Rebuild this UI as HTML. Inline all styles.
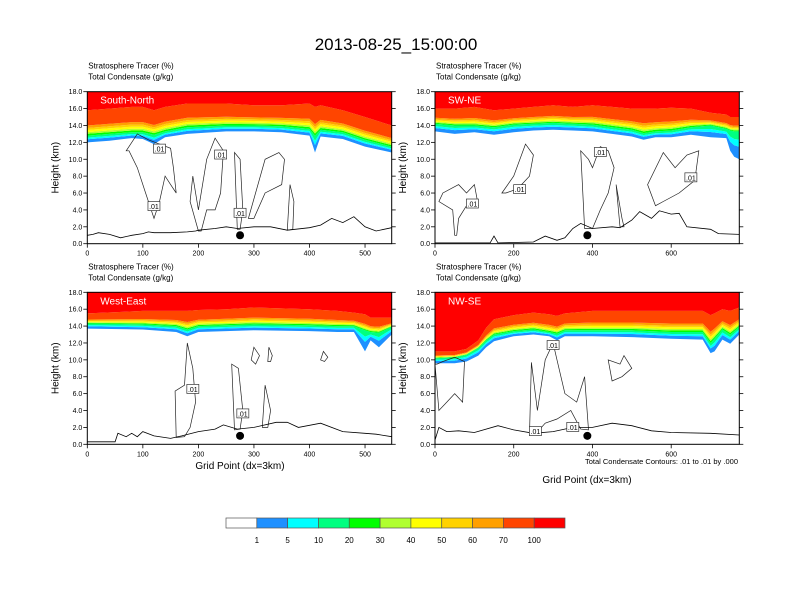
<!DOCTYPE html>
<html><head><meta charset="utf-8"><style>
html,body{margin:0;padding:0;background:#fff;}
svg{display:block;font-family:"Liberation Sans",sans-serif;}
</style></head><body>
<svg id="chart" width="792" height="612" viewBox="0 0 792 612">
<text x="396" y="50" font-size="17" text-anchor="middle">2013-08-25_15:00:00</text>
<g id="panels"></g>
<text x="738" y="464" font-size="7.5" text-anchor="end">Total Condensate Contours: .01 to .01 by .000</text>
<text x="240" y="469" font-size="10" text-anchor="middle">Grid Point (dx=3km)</text>
<text x="587" y="483" font-size="10" text-anchor="middle">Grid Point (dx=3km)</text>
<g id="colorbar"></g>
</svg>
<script>
const NS="http://www.w3.org/2000/svg";
const bandColors=["#1e90ff","#00ffff","#00ff80","#00ff00","#b0ff30","#ffff00","#ffd200","#ffa000","#ff4500","#ff0000"];
const cbColors=["#ffffff","#1e90ff","#00ffff","#00ff80","#00ff00","#b0ff30","#ffff00","#ffd200","#ffa000","#ff4500","#ff0000"];
const cbLabels=["1","5","10","20","30","40","50","60","70","100"];

const p1Xs=[0,40,80,100,120,140,180,250,300,350,400,410,420,460,500,548];
const p1Lo=[12.0,12.2,12.5,12.4,11.8,12.6,13.0,13.3,13.3,13.2,12.8,10.8,12.7,12.4,11.5,10.8];
const p1Mid=[12.8,13.0,13.2,13.2,12.9,13.3,13.8,14.0,14.0,13.9,13.6,12.8,13.5,13.2,12.3,11.5];
const p1Hi=[15.8,16.0,16.2,16.2,15.8,16.2,16.6,16.6,16.4,16.4,16.6,16.2,16.4,15.8,15.0,14.0];
const p1TerrX=[0,10,20,40,60,80,100,110,120,150,180,195,200,230,250,270,300,330,360,400,420,440,460,480,500,520,548];
const p1TerrY=[1.0,1.1,1.3,1.1,0.7,1.0,1.2,1.4,1.3,1.3,1.4,1.5,1.6,1.8,2.0,1.8,2.0,2.0,1.6,1.9,2.2,3.0,2.5,3.2,2.0,1.5,1.9];

const p2Xs=[0,50,100,150,200,250,300,350,400,450,500,530,560,600,650,700,740,750,760,773];
const p2Lo=[13.3,13.0,13.2,12.9,13.2,13.4,13.5,13.4,13.3,13.0,12.7,12.3,12.6,12.6,12.9,12.6,12.5,11.0,10.3,10.0];
const p2Mid=[14.2,14.0,14.0,13.8,14.1,14.2,14.3,14.2,14.1,13.8,13.5,13.1,13.3,13.4,13.8,14.0,13.6,13.4,13.3,13.3];
const p2Hi=[16.0,16.0,16.2,15.8,16.0,16.2,16.4,16.2,16.4,16.2,16.0,16.0,16.0,16.1,16.0,15.5,15.3,15.0,15.0,15.0];
const p2TerrX=[0,140,150,160,250,280,310,330,350,370,400,450,470,500,520,550,570,600,620,640,700,720,773];
const p2TerrY=[0.1,0.1,0.9,0.1,0.2,0.9,0.4,0.7,1.8,2.4,1.8,2.0,1.9,2.8,3.8,3.0,3.9,3.5,3.6,2.0,1.7,1.2,1.1];

const p3Xs=[0,100,160,180,200,250,300,400,450,480,500,510,525,548];
const p3Lo=[13.7,13.6,13.3,12.8,13.3,13.4,13.5,13.4,13.3,13.3,11.0,12.3,11.5,13.0];
const p3Mid=[14.3,14.2,14.0,13.6,14.0,14.1,14.2,14.1,14.0,14.0,13.5,13.3,13.2,13.9];
const p3Hi=[15.5,15.8,15.8,15.8,15.9,16.0,16.2,16.0,15.8,15.6,15.4,15.0,15.0,15.0];
const p3TerrX=[0,50,55,70,80,90,100,120,150,170,200,230,245,270,300,340,360,380,420,460,500,520,548];
const p3TerrY=[0.3,0.3,1.3,0.9,1.3,0.9,1.5,1.0,0.7,1.0,1.5,1.8,2.3,1.8,2.0,2.6,2.6,2.0,2.5,1.5,1.3,1.2,0.9];

const p4Xs=[0,50,80,110,130,150,200,250,290,310,330,400,500,600,680,700,710,730,750,773];
const p4Lo=[9.6,9.6,9.8,10.5,11.5,12.2,12.8,13.0,12.8,12.3,12.8,12.8,12.7,12.5,12.4,10.8,11.0,12.4,11.9,13.0];
const p4Mid=[10.2,10.3,10.6,11.4,12.3,13.0,13.4,13.6,13.3,13.1,13.5,13.5,13.5,13.3,13.3,12.0,12.5,13.6,13.0,13.9];
const p4Hi=[11.0,11.0,11.3,12.3,13.8,14.8,15.3,15.6,15.4,15.2,15.5,15.8,15.8,15.8,15.8,15.3,15.5,16.0,15.8,16.2];
const p4TerrX=[0,10,30,60,100,160,200,250,300,350,400,450,500,550,600,700,773];
const p4TerrY=[0.5,2.0,1.5,1.6,1.4,2.2,1.7,1.3,1.5,2.0,2.0,2.5,2.2,1.6,1.4,1.3,1.1];

const p1Contours=[
 [[70,11],[90,13],[110,12.3],[130,11.8],[150,11.3],[155,9],[160,6],[150,7],[140,8],[130,5],[120,3],[115,4],[105,6],[90,9],[75,11]],
 [[200,1.5],[185,5],[190,8],[200,4],[215,10],[230,12.5],[245,11],[240,6],[230,4],[215,4],[205,1.5]],
 [[270,1.7],[265,10.8],[275,10],[280,4],[275,1.7]],
 [[290,3],[320,10],[345,10.8],[355,10],[350,7],[320,6],[300,3]],
 [[360,1.6],[365,7],[372,5],[370,1.7]]];
const p2Contours=[
 [[50,1],[45,4],[10,5],[20,6],[60,7],[80,6],[100,7],[110,4.5],[80,4.5],[60,3],[55,1]],
 [[170,6],[200,8],[230,11.8],[250,10.5],[240,8],[210,6.5],[180,6]],
 [[380,1.8],[370,11],[390,10],[400,9],[420,11.5],[440,11],[455,9],[440,6],[420,4],[400,1.8]],
 [[470,2],[460,7],[475,3],[480,2]],
 [[560,4.5],[540,7],[580,10.8],[610,9],[640,10.5],[670,11],[660,7.5],[620,6],[580,5]]];
const p3Contours=[
 [[160,0.8],[158,6.3],[175,7],[180,12],[190,9],[195,5],[185,2],[175,0.9]],
 [[265,1.7],[260,9.5],[272,9],[280,4],[275,1.8]],
 [[315,2],[320,7],[330,4],[325,2]],
 [[295,10],[300,11.5],[310,10.5],[303,9.5]],
 [[325,9.8],[327,11.5],[333,10.5],[330,9.8]],
 [[420,10],[425,11],[433,10.3],[427,9.8]]];
const p4Contours=[
 [[0,9.5],[10,4],[30,5],[50,6],[70,5],[75,9.8],[50,10.3],[20,9.8],[5,9.5]],
 [[240,1.2],[245,9.7],[260,4],[280,10],[300,12],[310,10],[330,6],[360,5],[380,8],[390,1.7],[370,1.8],[345,4],[310,3],[280,2.5],[255,1.2]],
 [[450,7.5],[440,10],[470,9.5],[480,10.5],[500,9],[475,8]]];

const p1Labels=[[130,11.2],[240,10.5],[120,4.4],[275,3.6]];
const p2Labels=[[95,4.7],[215,6.4],[420,10.8],[650,7.8]];
const p3Labels=[[190,6.5],[280,3.6]];
const p4Labels=[[300,11.7],[255,1.5],[350,2.0]];

const panels=[
 {name:"South-North",left:87.3,top:91.7,w:304.4,h:152,xmax:548,xticks:[0,100,200,300,400,500],xs:p1Xs,lo:p1Lo,mid:p1Mid,hi:p1Hi,tx:p1TerrX,ty:p1TerrY,cont:p1Contours,labels:p1Labels,dot:275},
 {name:"SW-NE",left:435,top:91.7,w:304.3,h:152,xmax:773,xticks:[0,200,400,600],xs:p2Xs,lo:p2Lo,mid:p2Mid,hi:p2Hi,tx:p2TerrX,ty:p2TerrY,cont:p2Contours,labels:p2Labels,dot:387},
 {name:"West-East",left:87.3,top:292.3,w:304.4,h:152,xmax:548,xticks:[0,100,200,300,400,500],xs:p3Xs,lo:p3Lo,mid:p3Mid,hi:p3Hi,tx:p3TerrX,ty:p3TerrY,cont:p3Contours,labels:p3Labels,dot:275},
 {name:"NW-SE",left:435,top:292.3,w:304.3,h:152,xmax:773,xticks:[0,200,400,600],xs:p4Xs,lo:p4Lo,mid:p4Mid,hi:p4Hi,tx:p4TerrX,ty:p4TerrY,cont:p4Contours,labels:p4Labels,dot:387}
];

function mk(tag,attrs,parent){const e=document.createElementNS(NS,tag);for(const k in attrs)e.setAttribute(k,attrs[k]);parent.appendChild(e);return e;}

const root=document.getElementById("panels");
panels.forEach((p,pi)=>{
 const g=mk("g",{},root);
 
 
 const X=v=>p.left+v/p.xmax*p.w;
 const Y=v=>p.top+p.h-v/18*p.h;
 const cid="clip"+pi;
 const cp=mk("clipPath",{id:cid},g);
 mk("rect",{x:p.left,y:p.top,width:p.w,height:p.h},cp);
 const pg=mk("g",{"clip-path":"url(#"+cid+")"},g);
 const bound=(k,i)=>{const lo=p.lo[i],mid=p.mid[i],hi=p.hi[i];
  const f=[0,0.45,0.7,1.0];
  if(k<=3)return lo+f[k]*(mid-lo);
  const g2=[0,0.07,0.14,0.22,0.3,0.4,1.0];
  return mid+g2[k-3]*(hi-mid);};
 for(let b=0;b<10;b++){
  let pts=[];
  for(let i=0;i<p.xs.length;i++)pts.push(X(p.xs[i]).toFixed(1)+","+Y(bound(b,i)).toFixed(1));
  const upper=b<9?(i=>bound(b+1,i)):(i=>18);
  for(let i=p.xs.length-1;i>=0;i--)pts.push(X(p.xs[i]).toFixed(1)+","+Y(upper(i)).toFixed(1));
  const poly=mk("polygon",{points:pts.join(" "),fill:bandColors[b]},pg);
  
  
 }
 p.cont.forEach((c,ci)=>{
  const d=c.map((q,j)=>(j?"L":"M")+X(q[0]).toFixed(1)+","+Y(q[1]).toFixed(1)).join("")+"Z";
  const path=mk("path",{d:d,fill:"none",stroke:"#222","stroke-width":"0.7"},pg);
  
  
 });
 const td=p.tx.map((v,j)=>(j?"L":"M")+X(v).toFixed(1)+","+Y(p.ty[j]).toFixed(1)).join("");
 const terr=mk("path",{d:td,fill:"none",stroke:"#000","stroke-width":"0.8"},pg);
 
 
 p.labels.forEach(l=>{
  const lg=mk("g",{},pg);
  
  
  mk("rect",{x:X(l[0])-6,y:Y(l[1])-5,width:12,height:9,fill:"#fff",stroke:"#333","stroke-width":"0.7"},lg);
  const t=mk("text",{x:X(l[0]),y:Y(l[1])+2.5,"font-size":"7","text-anchor":"middle"},lg);t.textContent=".01";
 });
 const dot=mk("circle",{cx:X(p.dot),cy:Y(1.0),r:4,fill:"#000"},pg);
 
 
 const nm=mk("text",{x:p.left+13,y:p.top+12,"font-size":"10",fill:"#fff"},pg);nm.textContent=p.name;
 
 
 const fr=mk("rect",{x:p.left,y:p.top,width:p.w,height:p.h,fill:"none",stroke:"#000","stroke-width":"1"},g);
 
 
 for(let v=0;v<=18;v+=2){
  mk("line",{x1:p.left-4,x2:p.left,y1:Y(v),y2:Y(v),stroke:"#000","stroke-width":"0.8"},g);
  mk("line",{x1:p.left+p.w,x2:p.left+p.w+4,y1:Y(v),y2:Y(v),stroke:"#000","stroke-width":"0.8"},g);
  const t=mk("text",{x:p.left-5,y:Y(v)+2.5,"font-size":"7","text-anchor":"end"},g);t.textContent=v.toFixed(1);
  
  
 }
 p.xticks.forEach(v=>{
  mk("line",{x1:X(v),x2:X(v),y1:p.top+p.h,y2:p.top+p.h+4,stroke:"#000","stroke-width":"0.8"},g);
  const t=mk("text",{x:X(v),y:p.top+p.h+12,"font-size":"7","text-anchor":"middle"},g);t.textContent=v;
  
  
 });
 const yt=mk("text",{x:0,y:0,"font-size":"10","text-anchor":"middle",transform:"translate("+(p.left-29)+","+(p.top+p.h/2)+") rotate(-90)"},g);yt.textContent="Height (km)";
 
 
 const t1=mk("text",{x:p.left+1,y:p.top-23,"font-size":"8"},g);t1.textContent="Stratosphere Tracer   (%)";t1.setAttribute("xml:space","preserve");
 
 
 const t2=mk("text",{x:p.left+1,y:p.top-12,"font-size":"8"},g);t2.textContent="Total Condensate   (g/kg)";t2.setAttribute("xml:space","preserve");
 
 
});
const cb=document.getElementById("colorbar");
const cbX=226,cbW=339,cbY=518,cbH=10,bw=cbW/cbColors.length;
cbColors.forEach((c,i)=>{
 const r=mk("rect",{x:cbX+i*bw,y:cbY,width:bw,height:cbH,fill:c,stroke:"#555","stroke-width":"0.7"},cb);
 
 
});
cbLabels.forEach((l,i)=>{
 const t=mk("text",{x:cbX+(i+1)*bw,y:543,"font-size":"8","text-anchor":"middle"},cb);t.textContent=l;
 
 
});
</script>
</body></html>
